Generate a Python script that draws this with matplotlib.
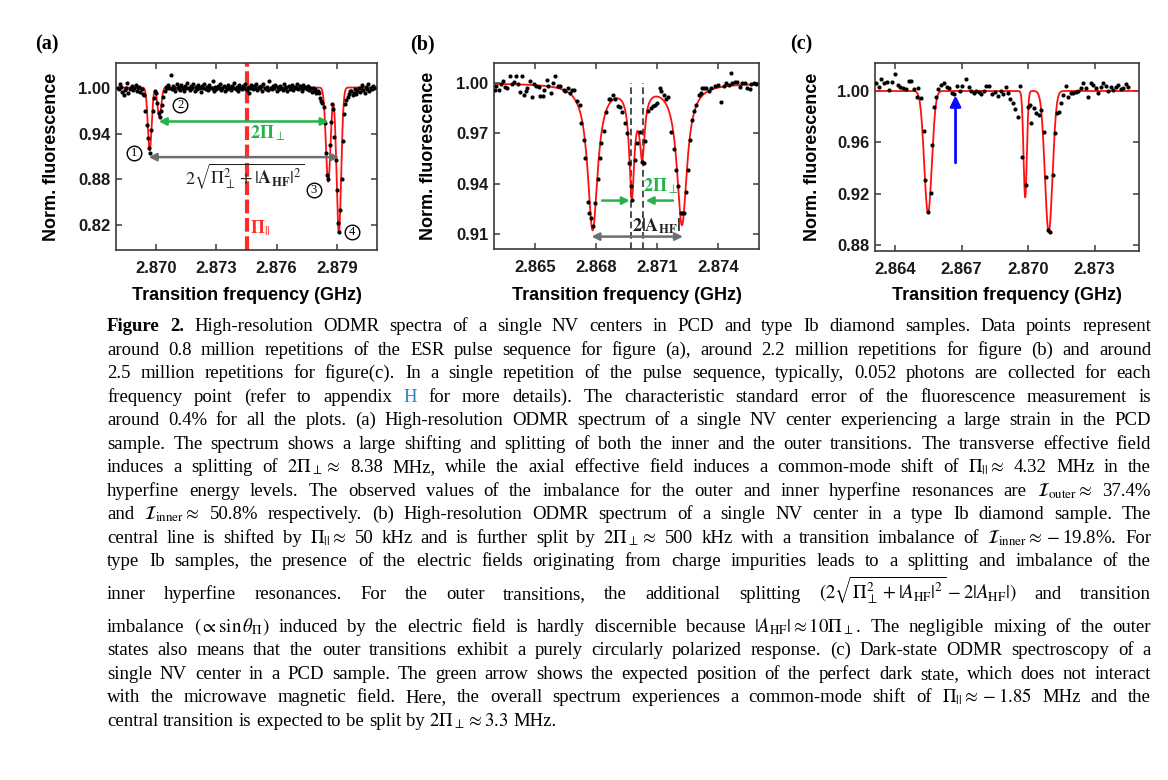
import re

import matplotlib

matplotlib.use("Agg")
import matplotlib.pyplot as plt
import numpy as np

plt.rcParams.update(
    {
        "font.family": ["Liberation Sans", "DejaVu Sans"],
        "mathtext.fontset": "stix",
        "axes.linewidth": 1.2,
    }
)

W, H = 1168, 780

# ---------------- panel (a): PCD sample, large strain ----------------
a_start_mhz = 2868.08
a_step_mhz = 0.06
a_fluor = [
    1.000, 0.998, 1.004, 1.001, 0.994, 0.990, 0.997, 0.999, 1.006, 0.993,
    0.998, 1.000, 1.002, 0.997, 0.999, 1.003, 0.996, 0.999, 1.001, 0.994,
    0.998, 0.992, 0.990,
    0.970, 0.951, 0.934, 0.921, 0.915, 0.944, 0.970, 0.986, 0.995, 0.993,
    0.980, 0.967, 0.962, 0.969, 0.977, 0.988, 0.996,
    1.001, 0.999, 1.003, 1.000, 1.016,
    0.998, 1.002, 1.000, 0.996, 1.004, 0.999, 1.001, 0.997, 1.003, 1.000,
    0.995, 1.002, 0.999, 1.006, 1.000, 0.997, 1.002, 0.999, 1.004, 0.996,
    1.001, 0.998, 1.003, 1.000, 0.994, 1.002, 0.999, 1.005, 0.998, 1.001,
    0.997, 1.003, 1.000, 0.999, 1.008, 0.996, 1.001, 0.998, 1.002, 0.999,
    1.004, 0.997, 1.000, 1.002, 0.995, 1.001, 0.998, 1.003, 1.000, 0.997,
    1.002, 0.999, 1.006, 0.998, 1.001, 0.996, 1.003, 1.000, 0.998, 1.002,
    0.999, 1.004, 0.997, 1.001, 0.993, 1.000, 1.003, 0.998, 1.002, 0.999,
    1.005, 0.997, 1.001, 0.999, 1.002, 0.996, 1.004, 1.000, 0.998, 1.001,
    0.997, 1.009, 1.000, 0.998, 1.002, 0.999, 1.003, 0.996, 1.001, 0.998,
    1.002, 1.000, 0.997, 1.004, 0.999, 1.001, 0.995, 1.002, 0.998, 1.000,
    1.003, 0.997, 1.001, 0.999, 1.005, 0.998, 1.002, 1.000, 0.996, 1.003,
    0.999, 1.001, 0.998, 1.002, 0.997, 1.000, 0.994, 0.999, 0.996, 0.998,
    0.993,
    0.996, 0.993, 0.986, 0.982, 0.980, 0.975, 0.954, 0.915, 0.886, 0.881,
    0.925, 0.955, 0.979, 0.972, 0.936, 0.906, 0.866, 0.823, 0.811, 0.840,
    0.880, 0.930, 0.965, 0.978, 0.984, 0.988, 0.992, 0.996,
    0.995, 0.990, 0.993, 0.998, 0.992, 0.996, 1.000, 0.994, 0.999, 1.003,
    0.997, 0.993, 1.001, 0.998, 1.004, 0.996, 1.000, 0.998, 1.002, 0.999,
]
# fitted dips (MHz)
a_centers = [2869.68, 2870.16, 2878.57, 2879.10]
a_depths = [0.082, 0.038, 0.123, 0.190]
a_sigmas = [0.095, 0.095, 0.115, 0.115]

# ---------------- panel (b): type Ib sample ----------------
b_freq_mhz = [
    2863.072, 2863.121, 2863.235, 2863.350, 2863.448, 2863.562, 2863.644, 2863.774,
    2863.889, 2864.003, 2864.069, 2864.167, 2864.265, 2864.395, 2864.461, 2864.575,
    2864.624, 2864.788, 2864.869, 2864.984, 2865.082, 2865.196, 2865.278, 2865.409,
    2865.474, 2865.605, 2865.654, 2865.801, 2865.899, 2866.013, 2866.128, 2866.258,
    2866.422, 2866.503, 2866.618, 2866.748, 2866.830, 2866.944, 2867.075, 2867.206,
    2867.271, 2867.402, 2867.484, 2867.614, 2867.680, 2867.762, 2867.843, 2867.974,
    2868.088, 2868.219, 2868.252, 2868.382, 2868.513, 2868.627, 2868.709, 2868.840,
    2868.954, 2869.069, 2869.167, 2869.281, 2869.412, 2869.526, 2869.608, 2869.739,
    2869.771, 2869.935, 2870.033, 2870.147, 2870.262, 2870.360, 2870.425, 2870.556,
    2870.687, 2870.801, 2870.915, 2871.013, 2871.128, 2871.209, 2871.340, 2871.455,
    2871.536, 2871.700, 2871.830, 2871.945, 2872.026, 2872.157, 2872.223, 2872.321,
    2872.435, 2872.517, 2872.615, 2872.713, 2872.811, 2872.925, 2873.039, 2873.138,
    2873.203, 2873.301, 2873.415, 2873.530, 2873.660, 2873.824, 2873.987, 2874.151,
    2874.281, 2874.396, 2874.510, 2874.608, 2874.674, 2874.804, 2874.935, 2875.049,
    2875.164, 2875.294, 2875.425, 2875.540, 2875.621, 2875.752, 2875.866,
]
b_fluor = [
    0.9960, 0.9984, 0.9956, 0.9996, 1.0010, 0.9976, 0.9970, 1.0040,
    0.9996, 1.0004, 1.0040, 0.9996, 0.9946, 1.0040, 0.9930, 0.9950,
    0.9970, 1.0010, 0.9916, 0.9996, 0.9984, 0.9976, 0.9924, 0.9924,
    0.9956, 1.0016, 0.9984, 0.9940, 1.0000, 1.0040, 0.9984, 0.9980,
    0.9960, 0.9950, 0.9970, 0.9940, 0.9960, 0.9956, 0.9896, 0.9870,
    0.9761, 0.9661, 0.9556, 0.9293, 0.9227, 0.9193, 0.9150, 0.9287,
    0.9426, 0.9552, 0.9645, 0.9717, 0.9825, 0.9904, 0.9904, 0.9930,
    0.9904, 0.9864, 0.9860, 0.9825, 0.9761, 0.9701, 0.9522, 0.9383,
    0.9303, 0.9542, 0.9641, 0.9711, 0.9532, 0.9522, 0.9657, 0.9831,
    0.9851, 0.9861, 0.9870, 0.9880, 0.9970, 0.9950, 0.9930, 0.9904,
    0.9916, 0.9711, 0.9606, 0.9482, 0.9383, 0.9223, 0.9223, 0.9223,
    0.9353, 0.9482, 0.9661, 0.9781, 0.9831, 0.9870, 0.9930, 0.9940,
    0.9970, 0.9970, 0.9970, 0.9950, 0.9970, 0.9984, 0.9990, 0.9890,
    0.9984, 1.0000, 0.9990, 1.0060, 1.0000, 1.0004, 1.0004, 0.9976,
    1.0000, 1.0000, 0.9970, 0.9964, 0.9996, 1.0000, 0.9996,
]
b_centers = [2867.84, 2869.76, 2870.27, 2872.22]
b_depths = [0.087, 0.063, 0.038, 0.084]
b_hwhm = [0.30, 0.15, 0.15, 0.30]

# ---------------- panel (c): dark-state ODMR, PCD ----------------
c_freq_mhz = [
    2863.139, 2863.260, 2863.365, 2863.516, 2863.621, 2863.742, 2863.863, 2864.014,
    2864.119, 2864.240, 2864.375, 2864.496, 2864.617, 2864.722, 2864.873, 2864.979,
    2865.054, 2865.175, 2865.295, 2865.371, 2865.491, 2865.612, 2865.672, 2865.778,
    2865.853, 2865.959, 2866.080, 2866.230, 2866.336, 2866.457, 2866.577, 2866.683,
    2866.788, 2866.909, 2867.030, 2867.211, 2867.331, 2867.437, 2867.542, 2867.663,
    2867.784, 2867.889, 2867.995, 2868.115, 2868.236, 2868.387, 2868.492, 2868.643,
    2868.764, 2868.869, 2868.990, 2869.096, 2869.201, 2869.322, 2869.427, 2869.548,
    2869.623, 2869.744, 2869.895, 2870.015, 2870.076, 2870.136, 2870.257, 2870.378,
    2870.483, 2870.603, 2870.709, 2870.799, 2870.905, 2871.010, 2871.101, 2871.206,
    2871.282, 2871.372, 2871.463, 2871.584, 2871.704, 2871.810, 2871.915, 2872.036,
    2872.157, 2872.262, 2872.368, 2872.488, 2872.609, 2872.714, 2872.820, 2872.941,
    2873.046, 2873.167, 2873.273, 2873.393, 2873.514, 2873.620, 2873.725, 2873.846,
    2873.966, 2874.072, 2874.178, 2874.298, 2874.419, 2874.525,
]
c_fluor = [
    1.0065, 1.0034, 1.0091, 1.0060, 1.0073, 1.0008, 1.0068, 1.0133,
    1.0047, 1.0029, 1.0021, 1.0013, 1.0081, 1.0081, 1.0013, 0.9956,
    1.0026, 0.9943, 0.9691, 0.9306, 0.9059, 0.9208, 0.9579, 0.9878,
    0.9951, 1.0013, 1.0047, 1.0060, 1.0034, 1.0023, 0.9982, 0.9974,
    1.0039, 1.0003, 1.0039, 1.0091, 1.0029, 1.0003, 0.9987, 1.0003,
    0.9990, 0.9977, 1.0003, 1.0039, 1.0039, 0.9974, 0.9990, 0.9961,
    1.0003, 0.9977, 1.0029, 0.9982, 0.9938, 0.9909, 0.9857, 0.9795,
    1.0039, 0.9488, 0.9267, 0.9878, 0.9891, 0.9753, 0.9865, 0.9826,
    0.9813, 0.9852, 0.9683, 0.9332, 0.8917, 0.8904, 0.9345, 0.9675,
    0.9826, 0.9839, 0.9904, 0.9969, 1.0039, 0.9956, 0.9982, 0.9982,
    0.9995, 1.0003, 1.0021, 1.0060, 1.0021, 0.9956, 1.0060, 1.0047,
    1.0021, 0.9982, 1.0029, 1.0060, 1.0039, 1.0000, 1.0034, 1.0008,
    1.0034, 1.0047, 1.0013, 1.0021, 1.0055, 1.0034,
]
c_centers = [2865.49, 2869.87, 2870.93]
c_depths = [0.095, 0.083, 0.110]
c_sigmas = [0.17, 0.075, 0.17]


def gauss_dips(f, centers, depths, sigmas):
    y = np.ones_like(f)
    for c, d, s in zip(centers, depths, sigmas):
        y -= d * np.exp(-((f - c) ** 2) / (2 * s**2))
    return y


def lorentz_dips(f, centers, depths, widths):
    y = np.ones_like(f)
    for c, d, g in zip(centers, depths, widths):
        y -= d / (1 + ((f - c) / g) ** 2)
    return y


red = "#ff1010"
green = "#24b24b"
gray = "#6e6e6e"
spine_col = "#3a3a3a"

fig = plt.figure(figsize=(W / 100, H / 100), dpi=100)


def make_axes(left, top, right, bottom):
    return fig.add_axes([left / W, 1 - bottom / H, (right - left) / W, (bottom - top) / H])


def style_axes(ax, xlim, ylim, xticks, yticks, ylab_x, xlab_y):
    ax.set_xlim(*xlim)
    ax.set_ylim(*ylim)
    ax.set_xticks(xticks)
    ax.set_yticks(yticks)
    ax.set_xticklabels([f"{t:.3f}" for t in xticks])
    ax.set_yticklabels([f"{t:.2f}" for t in yticks])
    ax.tick_params(direction="in", length=4, width=1.1, color=spine_col,
                   top=True, right=True, labelsize=12)
    ax.tick_params(axis="x", pad=8)
    ax.tick_params(axis="y", pad=4)
    for lab in ax.get_xticklabels() + ax.get_yticklabels():
        lab.set_fontweight("bold")
        lab.set_color("#1a1a1a")
    for sp in ax.spines.values():
        sp.set_color(spine_col)
    ax.set_xlabel("Transition frequency (GHz)", fontsize=13, fontweight="bold")
    ax.set_ylabel("Norm. fluorescence", fontsize=13, fontweight="bold")
    ax.yaxis.set_label_coords(ylab_x, 0.5)
    ax.xaxis.set_label_coords(0.5, xlab_y)
    ax.xaxis.label.set_va("top")


def plot_data(ax, f_mhz, y, fit_f_mhz, fit_y):
    ax.plot(fit_f_mhz / 1000, fit_y, color=red, lw=1.3, zorder=2)
    ax.plot(np.asarray(f_mhz) / 1000, y, "o", color="black", ms=3.0, mew=0, zorder=3)


# ---- (a) ----
ax_a = make_axes(116, 63, 377, 250)
a_freq = a_start_mhz + a_step_mhz * np.arange(len(a_fluor))
fa = np.linspace(2868.0, 2881.0, 3000)
ax_a.axvline(2.87450, color="#ff2a2a", lw=3, dashes=(3.3, 1.1), zorder=1)
plot_data(ax_a, a_freq, a_fluor, fa, gauss_dips(fa, a_centers, a_depths, a_sigmas))
style_axes(ax_a, (2.8680, 2.8810), (0.788, 1.032),
           [2.870, 2.873, 2.876, 2.879], [0.82, 0.88, 0.94, 1.00], -0.215, -0.198)
arrow_kw = dict(lw=1.8, mutation_scale=11, shrinkA=0, shrinkB=0)
ax_a.annotate("", xy=(2.87013, 0.9557), xytext=(2.87859, 0.9557),
              arrowprops=dict(arrowstyle="<|-|>", color=green, **arrow_kw), zorder=4)
ax_a.annotate("", xy=(2.86963, 0.9092), xytext=(2.87912, 0.9092),
              arrowprops=dict(arrowstyle="<|-|>", color=gray, **arrow_kw), zorder=4)
ax_a.text(2.87556, 0.940, r"$\mathbf{2\Pi}_{\perp}$", color=green, fontsize=13,
          ha="center", va="center")
ax_a.text(2.87442, 0.884, r"$2\sqrt{\Pi_\perp^2 + |\mathbf{A}_{\mathbf{HF}}|^2}$",
          color="#202020", fontsize=13, ha="center", va="center")
ax_a.text(2.87520, 0.8166, r"$\mathbf{\Pi}_{||}$", color="#ff2a2a", fontsize=13,
          ha="center", va="center")
circle_pos = [(2.86889, 0.9145), (2.87120, 0.9774), (2.87784, 0.8666), (2.87975, 0.8120)]
for k, (cx, cy) in enumerate(circle_pos, start=1):
    ax_a.plot(cx, cy, "o", ms=10.5, mfc="white", mec="black", mew=1.0, zorder=5)
    ax_a.text(cx, cy, str(k), fontsize=9, family="Liberation Serif", ha="center",
              va="center", zorder=6)

# ---- (b) ----
ax_b = make_axes(494, 63, 759, 249)
fb = np.linspace(2862.9, 2876.1, 3000)
ax_b.vlines([2.86974, 2.87031], 0.901, 1.0, colors="#303030", lw=1.2,
            linestyles=(0, (4, 2.2)), zorder=1)
plot_data(ax_b, b_freq_mhz, b_fluor, fb, lorentz_dips(fb, b_centers, b_depths, b_hwhm))
style_axes(ax_b, (2.8630, 2.8760), (0.901, 1.012),
           [2.865, 2.868, 2.871, 2.874], [0.91, 0.94, 0.97, 1.00], -0.215, -0.204)
ax_b.annotate("", xy=(2.86966, 0.9299), xytext=(2.86830, 0.9299),
              arrowprops=dict(arrowstyle="-|>", color=green, **arrow_kw), zorder=4)
ax_b.annotate("", xy=(2.87044, 0.9299), xytext=(2.87178, 0.9299),
              arrowprops=dict(arrowstyle="-|>", color=green, **arrow_kw), zorder=4)
ax_b.annotate("", xy=(2.86778, 0.9084), xytext=(2.87227, 0.9084),
              arrowprops=dict(arrowstyle="<|-|>", color=gray, **arrow_kw), zorder=4)
ax_b.text(2.87117, 0.9385, r"$\mathbf{2\Pi}_{\perp}$", color=green, fontsize=13,
          ha="center", va="center")
ax_b.text(2.86978, 0.9145, r"$\mathbf{2|A}_{\mathbf{HF}}\mathbf{|}$", color="#202020",
          fontsize=13, ha="left", va="center")

# ---- (c) ----
ax_c = make_axes(875, 63, 1139, 251)
fc = np.linspace(2862.9, 2875.1, 3000)
plot_data(ax_c, c_freq_mhz, c_fluor, fc, gauss_dips(fc, c_centers, c_depths, c_sigmas))
style_axes(ax_c, (2.8631, 2.8750), (0.8753, 1.0218),
           [2.864, 2.867, 2.870, 2.873], [0.88, 0.92, 0.96, 1.00], -0.205, -0.191)
ax_c.annotate("", xy=(2.86673, 0.9965), xytext=(2.86673, 0.944),
              arrowprops=dict(arrowstyle="-|>", color="#0a0aff", lw=2,
                              mutation_scale=16, shrinkA=0, shrinkB=0), zorder=4)

# panel letters
for lbl, px in [("(a)", 35), ("(b)", 410), ("(c)", 790)]:
    fig.text(px / W, 1 - 44 / H, lbl, fontsize=14.5, fontweight="bold",
             family="Liberation Serif", ha="left", va="center")

# ---------------- caption ----------------
caption_lines = [
    [("Figure 2.", "bold"), (" High-resolution ODMR spectra of a single NV centers in PCD and type Ib diamond samples. Data points represent", "normal")],
    [("around 0.8 million repetitions of the ESR pulse sequence for figure (a), around 2.2 million repetitions for figure (b) and around", "normal")],
    [("2.5 million repetitions for figure(c). In a single repetition of the pulse sequence, typically, 0.052 photons are collected for each", "normal")],
    [("frequency point (refer to appendix", "normal"), ("H", "link"), ("for more details). The characteristic standard error of the fluorescence measurement is", "normal")],
    [("around 0.4% for all the plots. (a) High-resolution ODMR spectrum of a single NV center experiencing a large strain in the PCD", "normal")],
    [("sample. The spectrum shows a large shifting and splitting of both the inner and the outer transitions. The transverse effective field", "normal")],
    [(r"induces a splitting of $2\Pi_\perp \approx$ 8.38 MHz, while the axial effective field induces a common-mode shift of $\Pi_{||} \approx$ 4.32 MHz in the", "normal")],
    [(r"hyperfine energy levels. The observed values of the imbalance for the outer and inner hyperfine resonances are $\mathcal{I}_{\mathrm{outer}} \approx$ 37.4%", "normal")],
    [(r"and $\mathcal{I}_{\mathrm{inner}} \approx$ 50.8% respectively. (b) High-resolution ODMR spectrum of a single NV center in a type Ib diamond sample. The", "normal")],
    [(r"central line is shifted by $\Pi_{||} \approx$ 50 kHz and is further split by $2\Pi_\perp \approx$ 500 kHz with a transition imbalance of $\mathcal{I}_{\mathrm{inner}} \approx -$19.8%. For", "normal")],
    [("type Ib samples, the presence of the electric fields originating from charge impurities leads to a splitting and imbalance of the", "normal")],
    [(r"inner hyperfine resonances. For the outer transitions, the additional splitting $(2\sqrt{\Pi_\perp^2 + |A_{\mathrm{HF}}|^2} - 2|A_{\mathrm{HF}}|)$ and transition", "normal")],
    [(r"imbalance $(\propto \sin\theta_\Pi)$ induced by the electric field is hardly discernible because $|A_{\mathrm{HF}}| \approx 10\Pi_\perp$. The negligible mixing of the outer", "normal")],
    [("states also means that the outer transitions exhibit a purely circularly polarized response. (c) Dark-state ODMR spectroscopy of a", "normal")],
    [("single NV center in a PCD sample. The green arrow shows the expected position of the perfect dark state, which does not interact", "normal")],
    [(r"with the microwave magnetic field. Here, the overall spectrum experiences a common-mode shift of $\Pi_{||} \approx -1.85$ MHz and the", "normal")],
    [(r"central transition is expected to be split by $2\Pi_\perp \approx 3.3$ MHz.", "normal")],
]
caption_baselines = [331, 355, 378, 402, 425, 449, 472, 496, 519, 543, 566, 599, 632, 655, 679, 702, 726]
cap_left, cap_right = 107, 1151
link_color = "#2f7fb8"

renderer = fig.canvas.get_renderer()
rows = []
for base_y, segs in zip(caption_baselines, caption_lines):
    arts = []
    for text, style in segs:
        for w in re.findall(r"(?:\$[^$]*\$|\S)+", text):
            arts.append(fig.text(0, 1 - base_y / H, w, fontsize=10,
                                 family="Liberation Serif",
                                 fontweight="bold" if style == "bold" else "normal",
                                 color=link_color if style == "link" else "black",
                                 ha="left", va="baseline"))
    rows.append(arts)

# pick a size so that the densest line still has some word spacing
target = cap_right - cap_left
ratios = []
for arts in rows[:-1]:
    sw = sum(t.get_window_extent(renderer).width for t in arts)
    ratios.append((target - 2.4 * (len(arts) - 1)) / sw)
cap_size = min(13.5, 10 * min(ratios))

for i, arts in enumerate(rows):
    for t in arts:
        t.set_fontsize(cap_size)
    widths = [t.get_window_extent(renderer).width for t in arts]
    if i == len(rows) - 1:
        gap = cap_size * 0.25 * 100 / 72
    else:
        gap = (target - sum(widths)) / (len(arts) - 1)
    x = cap_left
    for t, w in zip(arts, widths):
        t.set_x(x / W)
        x += w + gap

fig.savefig("out.png", dpi=100, facecolor="white")
